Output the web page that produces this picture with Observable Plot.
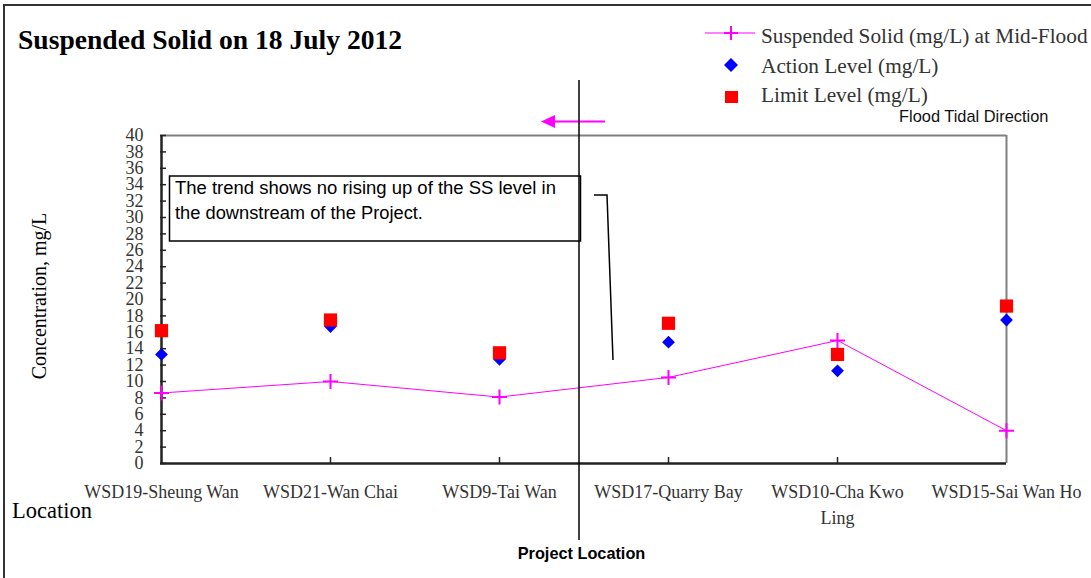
<!DOCTYPE html>
<html><head><meta charset="utf-8">
<script src="https://cdn.jsdelivr.net/npm/d3@7"></script>
<script src="https://cdn.jsdelivr.net/npm/@observablehq/plot@0.6"></script>
<style>body{margin:0;background:#fff}svg{display:block}</style>
</head><body><div id="chart"></div>
<script>
const locations = ["WSD19-Sheung Wan","WSD21-Wan Chai","WSD9-Tai Wan","WSD17-Quarry Bay","WSD10-Cha Kwo Ling","WSD15-Sai Wan Ho"];
const tickLabels = ["WSD19-Sheung Wan","WSD21-Wan Chai","WSD9-Tai Wan","WSD17-Quarry Bay","WSD10-Cha Kwo\nLing","WSD15-Sai Wan Ho"];
const ssMidFlood = [8.6, 10.0, 8.1, 10.5, 15.0, 4.0];
const actionLevel = [13.3, 16.7, 12.7, 14.8, 11.3, 17.5];
const limitLevel = [16.2, 17.5, 13.5, 17.1, 13.3, 19.2];
const yTicks = [0,2,4,6,8,10,12,14,16,18,20,22,24,26,28,30,32,34,36,38,40];

const data = locations.map((loc, i) => ({loc, ss: ssMidFlood[i], action: actionLevel[i], limit: limitLevel[i]}));

const W = 1091, H = 578, mL = 160, mR = 85, mT = 135, mB = 115;
const fw = W - mL - mR, fh = H - mT - mB;
const serif = "'Liberation Serif','Times New Roman',serif";
const sans = "'Liberation Sans',Arial,sans-serif";

const plusSym = {draw(c, s){ const r = Math.sqrt(s/Math.PI); c.moveTo(-r,0); c.lineTo(r,0); c.moveTo(0,-r); c.lineTo(0,r); }};
const diamondSym = {draw(c, s){ const r = Math.sqrt(s/Math.PI); c.moveTo(0,-r); c.lineTo(r,0); c.lineTo(0,r); c.lineTo(-r,0); c.closePath(); }};
const squareSym = {draw(c, s){ const r = Math.sqrt(s/Math.PI); c.rect(-r,-r,2*r,2*r); }};

const chart = Plot.plot({
  width: W, height: H, marginLeft: mL, marginRight: mR, marginTop: mT, marginBottom: mB,
  style: {fontFamily: serif, fontSize: "18px", color: "#333", background: "white"},
  x: {type: "point", domain: locations, padding: 0},
  y: {domain: [0, 40]},
  marks: [
    Plot.ruleY([40], {stroke: "#808080", strokeWidth: 2}),
    Plot.ruleX([locations[5]], {stroke: "#808080", strokeWidth: 2}),
    Plot.tickY(yTicks, {y: d => d, insetRight: fw - 6, stroke: "#222", strokeWidth: 1.5}),
    Plot.tickX(locations.slice(1, 5), {x: d => d, insetTop: fh - 6, stroke: "#222", strokeWidth: 1.5}),
    Plot.ruleX([locations[0]], {stroke: "#222", strokeWidth: 2.5}),
    Plot.ruleY([0], {stroke: "#222", strokeWidth: 2.5}),
    Plot.axisY({ticks: yTicks, tickSize: 0, tickPadding: 17, fontSize: 18, label: null, fill: "#333"}),
    Plot.axisX({tickSize: 0, tickPadding: 16, tickFormat: d => tickLabels[locations.indexOf(d)], lineHeight: 1.45, fontSize: 18, label: null, fill: "#333"}),
    Plot.line(data, {x: "loc", y: "ss", stroke: "#ff00ff", strokeWidth: 1}),
    Plot.dot(data, {x: "loc", y: "action", symbol: diamondSym, r: 6.4, fill: "#0000ff"}),
    Plot.dot(data, {x: "loc", y: "limit", symbol: squareSym, r: 6.6, fill: "#ff0000"}),
    Plot.dot(data, {x: "loc", y: "ss", symbol: plusSym, r: 7.5, stroke: "#ff00ff", strokeWidth: 2, fill: "none"})
  ]
});
document.getElementById("chart").appendChild(chart);

const svg = d3.select(chart);
const deco = svg.append("g").attr("text-anchor", "start");
// outer border
deco.append("rect").attr("x", 4).attr("y", 5).attr("width", 1100).attr("height", 600)
  .attr("fill", "none").attr("stroke", "#333").attr("stroke-width", 2);
// title
deco.append("text").attr("x", 18).attr("y", 49).attr("font-family", serif).attr("font-weight", "bold")
  .attr("font-size", 27.6).attr("fill", "#000").text("Suspended Solid on 18 July 2012");
// legend
const lg = deco.append("g").attr("font-family", serif).attr("font-size", 21.3).attr("fill", "#333");
lg.append("line").attr("x1", 705).attr("x2", 755).attr("y1", 33).attr("y2", 33).attr("stroke", "#ff00ff").attr("stroke-width", 1);
lg.append("path").attr("d", "M724,33H738M731,26V40").attr("stroke", "#ff00ff").attr("stroke-width", 2);
lg.append("path").attr("d", "M731,58L738,65L731,72L724,65Z").attr("fill", "#0000ff");
lg.append("rect").attr("x", 725).attr("y", 91).attr("width", 13).attr("height", 12).attr("fill", "#ff0000");
lg.append("text").attr("x", 761).attr("y", 43).text("Suspended Solid (mg/L) at Mid-Flood");
lg.append("text").attr("x", 761).attr("y", 73).text("Action Level (mg/L)");
lg.append("text").attr("x", 761).attr("y", 102).text("Limit Level (mg/L)");
// flood tidal direction
deco.append("text").attr("x", 899).attr("y", 122).attr("font-family", sans).attr("font-size", 16.4)
  .attr("fill", "#111").text("Flood Tidal Direction");
deco.append("line").attr("x1", 605).attr("x2", 552).attr("y1", 121.5).attr("y2", 121.5).attr("stroke", "#ff00ff").attr("stroke-width", 2);
deco.append("path").attr("d", "M541,121.5L555,115L555,128Z").attr("fill", "#ff00ff");
// annotation box
deco.append("rect").attr("x", 169.5).attr("y", 176).attr("width", 411).attr("height", 65)
  .attr("fill", "white").attr("stroke", "#000").attr("stroke-width", 1.5);
const at = deco.append("g").attr("font-family", sans).attr("font-size", 18.3).attr("fill", "#000");
at.append("text").attr("x", 175).attr("y", 194).attr("textLength", 381).attr("lengthAdjust", "spacingAndGlyphs")
  .text("The trend shows no rising up of the SS level in");
at.append("text").attr("x", 175).attr("y", 219).text("the downstream of the Project.");
deco.append("path").attr("d", "M594,195H607L613,360").attr("fill", "none").attr("stroke", "#000").attr("stroke-width", 1.5);
// project location
deco.append("line").attr("x1", 579).attr("x2", 579).attr("y1", 80).attr("y2", 540).attr("stroke", "#000").attr("stroke-width", 1.5);
deco.append("text").attr("x", 581.5).attr("y", 559).attr("text-anchor", "middle").attr("font-family", sans)
  .attr("font-weight", "bold").attr("font-size", 16.3).attr("fill", "#000").text("Project Location");
// axis titles
deco.append("text").attr("transform", "translate(46,296) rotate(-90)").attr("text-anchor", "middle")
  .attr("font-family", serif).attr("font-size", 20).attr("fill", "#000").text("Concentration, mg/L");
deco.append("text").attr("x", 12).attr("y", 518).attr("font-family", serif).attr("font-size", 22.5)
  .attr("fill", "#000").text("Location");
</script></body></html>
